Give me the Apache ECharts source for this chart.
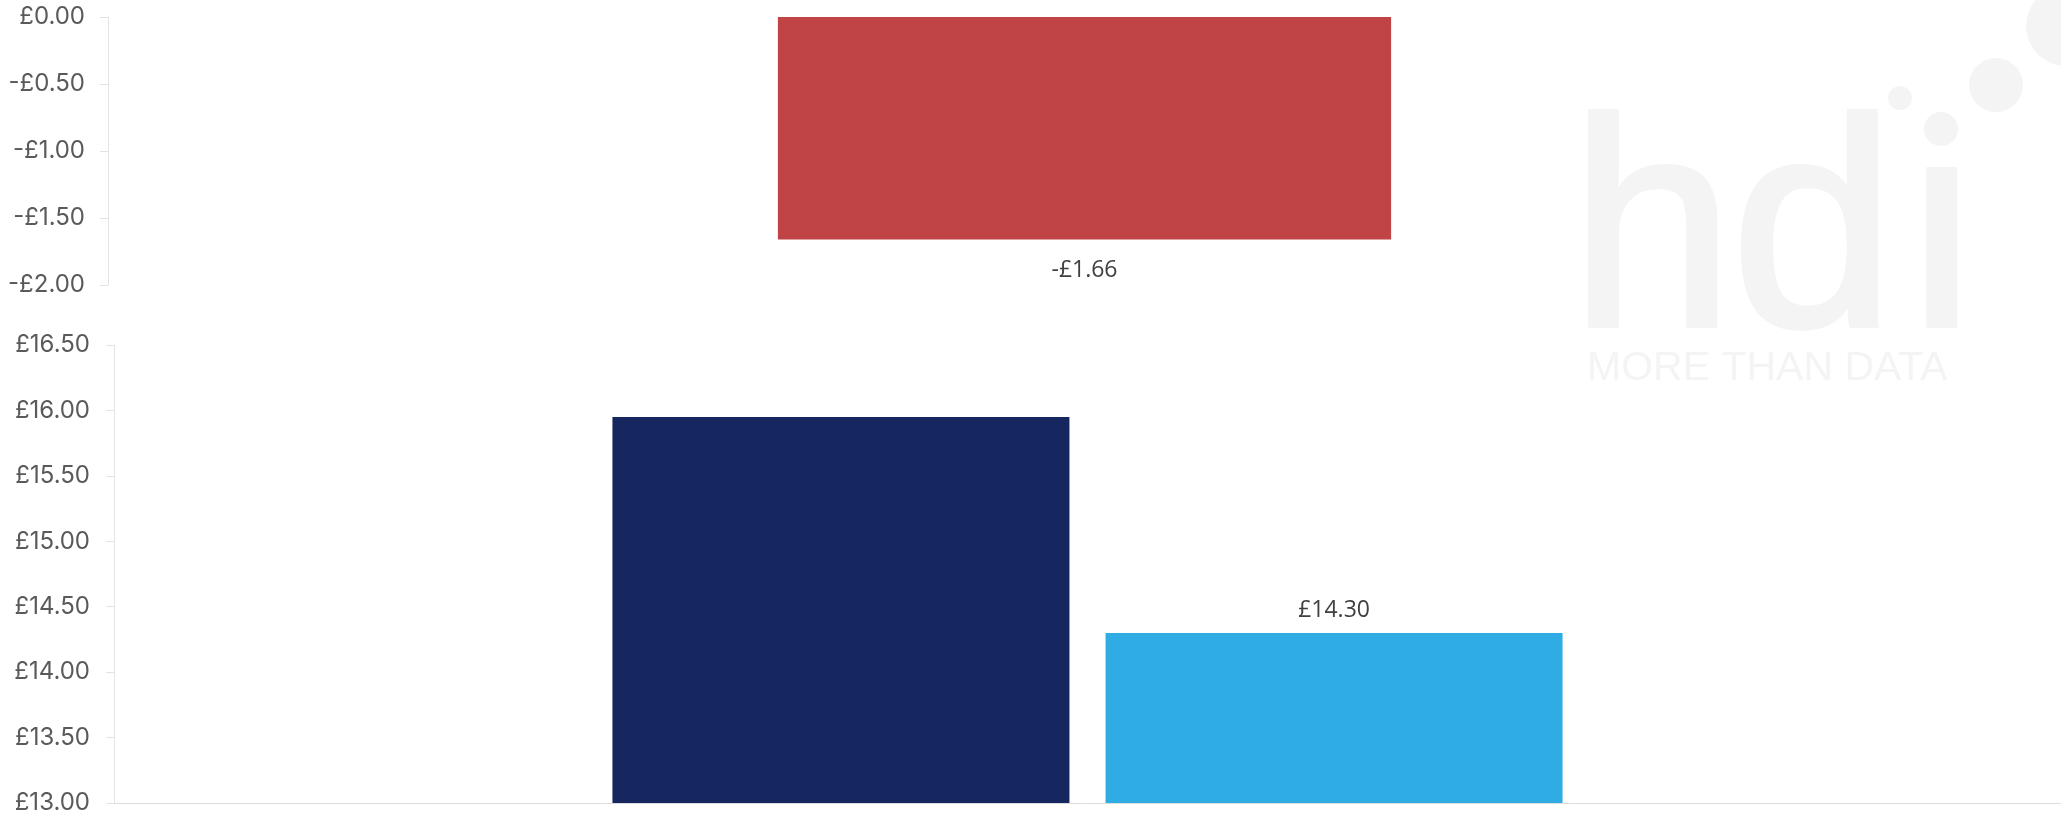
<!DOCTYPE html>
<html>
<head>
<meta charset="utf-8">
<script src="https://cdn.jsdelivr.net/npm/echarts@6/dist/echarts.min.js"></script>
<style>
  html, body { margin: 0; padding: 0; background: #ffffff; }
  #chart { width: 2061px; height: 815px; }
</style>
</head>
<body>
<div id="chart"></div>
<script>
// Change panel (top) and price panel (bottom)
const changeCategories = ['Change'];
const changeValues = [-1.66];

const priceCategories = ['Price'];
const previousPrice = [15.95];
const currentPrice = [14.30];

const changeTicks = [0, -0.5, -1, -1.5, -2];
const priceTicks = [13, 13.5, 14, 14.5, 15, 15.5, 16, 16.5];

const AXIS_FONT = 'Inter, "Open Sans", sans-serif';
const LABEL_FONT = '"Open Sans", "Noto Sans", sans-serif';
const WATERMARK = '#f4f4f4';
const LOGO_FONT = '295px "Liberation Sans", Arial, sans-serif';

function money(v) {
  const s = '£' + Math.abs(v).toFixed(2);
  return v < 0 ? '-' + s : s;
}

const chart = echarts.init(document.getElementById('chart'), null, { renderer: 'canvas' });

const yAxisCommon = {
  type: 'value',
  interval: 0.5,
  splitLine: { show: false },
  axisLine: { show: true, lineStyle: { color: '#e3e3e3', width: 1 } },
  axisTick: { show: true, length: 8, lineStyle: { color: '#e3e3e3' } },
  axisLabel: {
    color: '#5a5a5a',
    fontFamily: AXIS_FONT,
    fontSize: 24,
    formatter: p => money(p)
  }
};

// watermark glyphs, thickened with a same-colour rounded stroke
function logoText(text, x, y, font, strokeWidth) {
  return {
    type: 'text', z: -10, silent: true, x: x, y: y,
    style: {
      text: text, font: font, fill: WATERMARK, verticalAlign: 'middle',
      stroke: strokeWidth ? WATERMARK : null, lineWidth: strokeWidth || 0,
      lineJoin: 'round'
    }
  };
}

chart.setOption({
  animation: false,
  backgroundColor: '#ffffff',
  graphic: [
    logoText('h', 1570, 244, LOGO_FONT, 5),
    logoText('d', 1731, 244, LOGO_FONT, 5),
    logoText('\u0131', 1901, 244, LOGO_FONT, 5),
    { type: 'circle', z: -10, silent: true, shape: { cx: 1900, cy: 98, r: 12 }, style: { fill: WATERMARK } },
    { type: 'circle', z: -10, silent: true, shape: { cx: 1941, cy: 129, r: 17 }, style: { fill: WATERMARK } },
    { type: 'circle', z: -10, silent: true, shape: { cx: 1996, cy: 85, r: 27 }, style: { fill: WATERMARK } },
    { type: 'circle', z: -10, silent: true, shape: { cx: 2066, cy: 26, r: 40 }, style: { fill: WATERMARK } },
    logoText('MORE THAN DATA', 1587, 369, '41px "Liberation Sans", Arial, sans-serif', 0)
  ],
  grid: [
    { left: 108, right: 0, top: 17, height: 268, containLabel: false },
    { left: 114, right: 0, top: 345, height: 460, containLabel: false }
  ],
  xAxis: [
    {
      gridIndex: 0, type: 'category', data: changeCategories,
      axisLine: { show: false }, axisTick: { show: false }, axisLabel: { show: false }
    },
    {
      gridIndex: 1, type: 'category', data: priceCategories,
      axisLine: { show: true, onZero: false, lineStyle: { color: '#dcdcdc', width: 1 } },
      axisTick: { show: false }, axisLabel: { show: false }
    }
  ],
  yAxis: [
    Object.assign({}, yAxisCommon, {
      gridIndex: 0,
      min: changeTicks[changeTicks.length - 1],
      max: changeTicks[0],
      axisLabel: Object.assign({}, yAxisCommon.axisLabel, { margin: 23 })
    }),
    Object.assign({}, yAxisCommon, {
      gridIndex: 1,
      min: priceTicks[0],
      max: priceTicks[priceTicks.length - 1],
      axisLabel: Object.assign({}, yAxisCommon.axisLabel, { margin: 24 })
    })
  ],
  series: [
    {
      name: 'Change', type: 'bar', xAxisIndex: 0, yAxisIndex: 0,
      data: changeValues, barCategoryGap: '68.6%',
      itemStyle: { color: '#c04345' },
      label: {
        show: true, position: 'bottom', distance: 20,
        color: '#404040', fontFamily: LABEL_FONT, fontSize: 23,
        formatter: p => money(p.value)
      }
    },
    {
      name: 'Previous', type: 'bar', xAxisIndex: 1, yAxisIndex: 1,
      data: previousPrice, barGap: '7.9%', barCategoryGap: '51.2%',
      itemStyle: { color: '#16265f' },
      label: { show: false }
    },
    {
      name: 'Current', type: 'bar', xAxisIndex: 1, yAxisIndex: 1,
      data: currentPrice, barGap: '7.9%', barCategoryGap: '51.2%',
      itemStyle: { color: '#30ace4' },
      label: {
        show: true, position: 'top', distance: 11,
        color: '#404040', fontFamily: LABEL_FONT, fontSize: 23,
        formatter: p => money(p.value)
      }
    }
  ]
});
</script>
</body>
</html>
